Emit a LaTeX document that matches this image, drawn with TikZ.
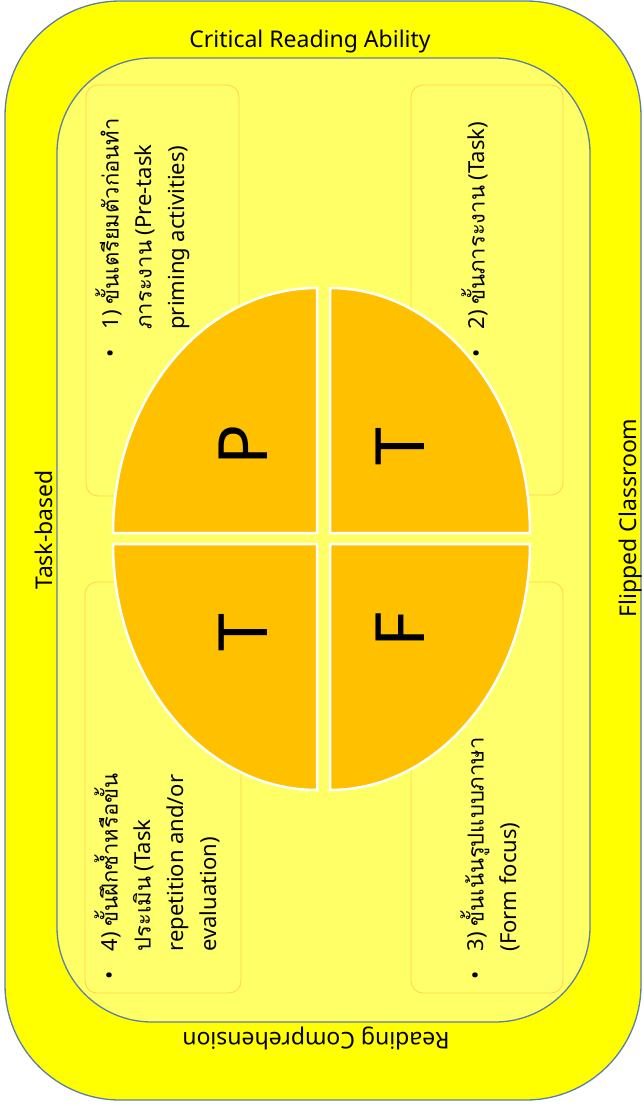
\documentclass[tikz,border=0pt]{standalone}
\usepackage{fontspec}
\setmainfont{Noto Sans}
\newfontfamily\thai[Script=Thai]{Loma}
\definecolor{outerY}{HTML}{FFFF00}
\definecolor{innerY}{HTML}{FFFF66}
\definecolor{boxY}{HTML}{FFFF6B}
\definecolor{boxB}{HTML}{FFD34D}
\definecolor{edgeB}{HTML}{5B7FA8}
\definecolor{quadO}{HTML}{FFC000}
\tikzset{
  region/.style={draw=edgeB, line width=1.3pt},
  textbox/.style={draw=boxB, fill=boxY, line width=0.8pt, rounded corners=12pt},
  quad/.style={fill=quadO, draw=white, line width=2.5pt},
  bigletter/.style={rotate=90, inner sep=0pt, font=\fontsize{68}{68}\selectfont},
  boxtext/.style={rotate=90, anchor=north west, inner sep=0pt, align=left, font=\fontsize{22}{33}\selectfont},
  label/.style={inner sep=0pt, font=\fontsize{23}{26}\selectfont, anchor=base},
}
\begin{document}
\begin{tikzpicture}[x=1pt,y=-1pt]
\useasboundingbox (0,0) rectangle (643,1106);
% regions
\draw[region, fill=outerY, rounded corners=115pt] (5,1) rectangle (641,1100);
\draw[region, fill=innerY, rounded corners=95pt] (57,58) rectangle (590,1022);
% text boxes
\draw[textbox] (86,85) rectangle (239,496);
\draw[textbox] (411,85) rectangle (563,495);
\draw[textbox] (85,582) rectangle (241,993);
\draw[textbox] (411,582) rectangle (563,993);
% quadrants
\coordinate (cTL) at (317,533);
\coordinate (cTR) at (330,533);
\coordinate (cBL) at (317,544);
\coordinate (cBR) at (330,544);
\path[quad] (cTL) -- ++(-204,0) arc[start angle=180, end angle=270, x radius=204, y radius=245] -- cycle;
\path[quad] (cTR) -- ++(0,-245) arc[start angle=270, end angle=360, x radius=200, y radius=245] -- cycle;
\path[quad] (cBL) -- ++(0,246) arc[start angle=90, end angle=180, x radius=204, y radius=246] -- cycle;
\path[quad] (cBR) -- ++(200,0) arc[start angle=0, end angle=90, x radius=200, y radius=246] -- cycle;
% big letters
\node[bigletter] (P) at (243,445) {P};
\node[bigletter] (T1) at (400,447) {T};
\node[bigletter] (T2) at (243,633) {T};
\node[bigletter] (F) at (400,630) {F};
% box texts
\node[boxtext] (t1) at (95,358) {\begin{tabular}{@{}l@{\hspace{20pt}}l@{}}
\textbullet & 1) {\thai ขั้นเตรียมตัวก่อนทำ}\\
 & {\thai ภาระงาน} (Pre-task\\
 & priming activities)
\end{tabular}};
\node[boxtext] (t2) at (461,358) {\begin{tabular}{@{}l@{\hspace{20pt}}l@{}}
\textbullet & 2) {\thai ขั้นภาระงาน} (Task)
\end{tabular}};
\node[boxtext] (t4) at (94,980) {\begin{tabular}{@{}l@{\hspace{20pt}}l@{}}
\textbullet & 4) {\thai ขั้นฝึกซ้ำหรือขั้น}\\
 & {\thai ประเมิน} (Task\\
 & repetition and/or\\
 & evaluation)
\end{tabular}};
\node[boxtext] (t3) at (460,980) {\begin{tabular}{@{}l@{\hspace{20pt}}l@{}}
\textbullet & 3) {\thai ขั้นเน้นรูปแบบภาษา}\\
 & (Form focus)
\end{tabular}};
% outer labels
\node[label] (cra) at (310,47) {Critical Reading Ability};
\node[label, rotate=180] (rc) at (316,1032) {Reading Comprehension};
\node[label, rotate=90] (tb) at (52,530) {Task-based};
\node[label, rotate=90] (fc) at (636,518) {Flipped Classroom};
\end{tikzpicture}
\end{document}
